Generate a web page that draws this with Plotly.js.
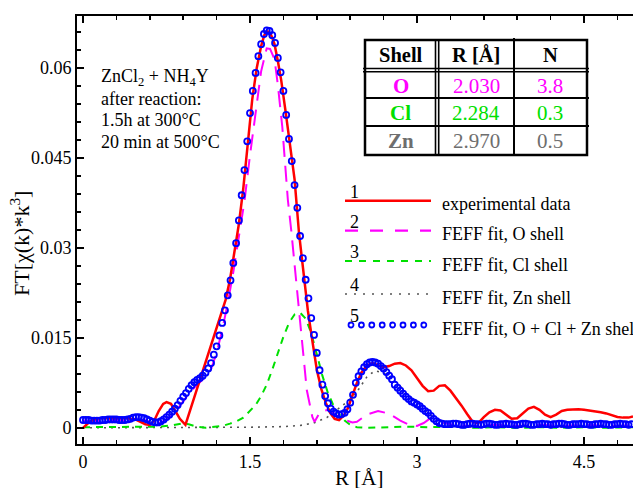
<!DOCTYPE html>
<html>
<head>
<meta charset="utf-8">
<script src="https://cdn.plot.ly/plotly-3.0.1.min.js"></script>
<style>html,body{margin:0;padding:0;background:#fff;}#chart{width:633px;height:488px;}</style>
</head>
<body>
<div id="chart"></div>
<script>
// ---------- DATA ----------
// experimental data (curve 1)
const R_exp = [0,0.03,0.06,0.1,0.15,0.2,0.3,0.4,0.47,0.52,0.56,0.6,0.64,0.68,0.72,0.75,0.79,0.83,0.87,0.92,0.96,1.0,1.04,1.08,1.12,1.16,1.2,1.24,1.28,1.32,1.36,1.4,1.44,1.48,1.52,1.56,1.6,1.63,1.66,1.69,1.72,1.75,1.78,1.82,1.86,1.9,1.94,1.98,2.02,2.06,2.1,2.14,2.18,2.22,2.26,2.3,2.34,2.38,2.42,2.46,2.5,2.55,2.6,2.65,2.7,2.75,2.8,2.85,2.9,2.95,3.0,3.05,3.1,3.15,3.2,3.25,3.3,3.35,3.4,3.45,3.5,3.55,3.6,3.65,3.7,3.75,3.8,3.85,3.9,3.95,4.0,4.05,4.1,4.15,4.2,4.25,4.3,4.35,4.4,4.45,4.5,4.55,4.6,4.65,4.7,4.75,4.8,4.85,4.9,4.94];
const FT_exp = [0,0.0005,0.0010,0.0014,0.0016,0.0016,0.0016,0.0016,0.0014,0.0010,0.0006,0.0005,0.0012,0.0028,0.0040,0.0043,0.0040,0.0028,0.0015,0.0005,0.0028,0.0050,0.0072,0.0094,0.0118,0.0142,0.0165,0.0188,0.0213,0.0247,0.0290,0.0340,0.0400,0.0475,0.0548,0.0600,0.0637,0.0656,0.0661,0.0655,0.0640,0.0612,0.0580,0.0527,0.0470,0.0415,0.0325,0.0263,0.0195,0.0145,0.0097,0.0065,0.0042,0.0025,0.0015,0.0013,0.0020,0.0033,0.0055,0.0075,0.0092,0.0104,0.0108,0.0105,0.0101,0.0103,0.0107,0.0108,0.0104,0.0096,0.0082,0.0070,0.0061,0.0062,0.0070,0.0071,0.0062,0.0050,0.0037,0.0023,0.0010,0.0008,0.0018,0.0026,0.0030,0.0029,0.0022,0.0015,0.0016,0.0024,0.0032,0.0035,0.0030,0.0022,0.0018,0.0022,0.0028,0.0030,0.0031,0.0031,0.0030,0.0029,0.0027,0.0026,0.0024,0.0021,0.0018,0.0017,0.0017,0.0019];

// FEFF fit, O shell (curve 2)
const R_O  = [0,0.1,0.2,0.3,0.4,0.5,0.55,0.6,0.65,0.7,0.75,0.8,0.85,0.9,0.95,1.0,1.05,1.1,1.15,1.2,1.25,1.3,1.35,1.4,1.45,1.5,1.55,1.6,1.65,1.68,1.72,1.75,1.79,1.81,1.84,1.87,1.92,1.97,2.01,2.06,2.08,2.13,2.2,2.27,2.35,2.42,2.46,2.55,2.65,2.72,2.78,2.85,2.92,3.0,3.06,3.12,3.18,3.25,3.35,3.5,3.7,3.9,4.1,4.3,4.5,4.7,4.94];
const FT_O = [0.0012,0.0011,0.0012,0.0013,0.0012,0.0014,0.0013,0.0010,0.0008,0.0009,0.0014,0.0022,0.0032,0.0044,0.0057,0.0067,0.0076,0.0085,0.0098,0.0125,0.0163,0.0208,0.0260,0.0320,0.0378,0.0455,0.0530,0.0595,0.0633,0.0632,0.0615,0.0572,0.0502,0.0447,0.0380,0.0330,0.0230,0.0130,0.0063,0.0018,0.0010,0.0027,0.0030,0.0022,0.0013,0.0009,0.0010,0.0022,0.0028,0.0025,0.0020,0.0012,0.0006,0.0003,0.0008,0.0016,0.0015,0.0008,0.0004,0.0003,0.0005,0.0003,0.0005,0.0003,0.0005,0.0003,0.0004];

// FEFF fit, Cl shell (curve 3)
const R_Cl  = [0,0.2,0.4,0.6,0.7,0.8,0.88,0.95,1.02,1.1,1.17,1.25,1.32,1.38,1.44,1.5,1.55,1.6,1.65,1.7,1.75,1.8,1.85,1.9,1.95,2.0,2.05,2.1,2.15,2.2,2.25,2.3,2.35,2.4,2.46,2.55,2.7,2.9,3.1,3.3,3.5,3.7,3.9,4.1,4.3,4.5,4.7,4.94];
const FT_Cl = [0.0001,0.0001,0.0001,0.0001,0.0002,0.0004,0.0007,0.0006,0.0002,0.0000,0.0001,0.0003,0.0007,0.0011,0.0017,0.0028,0.0038,0.0053,0.0072,0.0097,0.0125,0.0152,0.0175,0.0189,0.0192,0.0182,0.0158,0.0122,0.0087,0.0058,0.0037,0.0023,0.0012,0.0005,0.0001,0.0000,0.0001,0.0002,0.0001,0.0002,0.0000,0.0001,0.0000,0.0001,0.0000,0.0001,0.0000,0.0001];

// FEFF fit, Zn shell (curve 4)
const R_Zn  = [0,1.0,1.5,1.8,1.95,2.07,2.19,2.28,2.37,2.46,2.55,2.62,2.7,2.82,2.92,3.03,3.12,3.2,3.3,3.4,3.6,3.8,4.0,4.3,4.6,4.94];
const FT_Zn = [0,0,0.0001,0.0002,0.0004,0.0008,0.0017,0.0030,0.0043,0.0060,0.0085,0.0095,0.0092,0.0075,0.0055,0.0035,0.0022,0.0010,0.0003,0.0001,0.0002,0.0001,0.0002,0.0001,0.0002,0.0001];

// FEFF fit, O + Cl + Zn shells (curve 5)
const R_fit = [
 0,0.025,0.05,0.075,0.1,0.125,0.15,0.175,0.2,0.225,
 0.25,0.275,0.3,0.325,0.35,0.375,0.4,0.425,0.45,0.475,
 0.5,0.525,0.55,0.575,0.6,0.625,0.65,0.675,0.7,0.725,
 0.75,0.775,0.8,0.825,0.85,0.875,0.9,0.925,0.95,0.975,
 1.0,1.025,1.05,1.075,1.1,1.125,1.15,1.175,1.2,1.225,
 1.25,1.275,1.3,1.325,1.35,1.375,1.4,1.425,1.45,1.475,
 1.5,1.525,1.55,1.575,1.6,1.625,1.65,1.675,1.7,1.725,
 1.75,1.775,1.8,1.825,1.85,1.875,1.9,1.925,1.95,1.975,
 2.0,2.025,2.05,2.075,2.1,2.125,2.15,2.175,2.2,2.225,
 2.25,2.275,2.3,2.325,2.35,2.375,2.4,2.425,2.45,2.475,
 2.5,2.525,2.55,2.575,2.6,2.625,2.65,2.675,2.7,2.725,
 2.75,2.775,2.8,2.825,2.85,2.875,2.9,2.925,2.95,2.975,
 3.0,3.025,3.05,3.075,3.1,3.125,3.15,3.175,3.2,3.225,
 3.25,3.275,3.3,3.325,3.35,3.375,3.4,3.425,3.45,3.475,
 3.5,3.525,3.55,3.575,3.6,3.625,3.65,3.675,3.7,3.725,
 3.75,3.775,3.8,3.825,3.85,3.875,3.9,3.925,3.95,3.975,
 4.0,4.025,4.05,4.075,4.1,4.125,4.15,4.175,4.2,4.225,
 4.25,4.275,4.3,4.325,4.35,4.375,4.4,4.425,4.45,4.475,
 4.5,4.525,4.55,4.575,4.6,4.625,4.65,4.675,4.7,4.725,
 4.75,4.775,4.8,4.825,4.85,4.875,4.9,4.925];
const FT_fit = [
 0.0013,0.0013,0.0013,0.0012,0.0012,0.0012,0.0012,0.0013,0.0013,0.0014,
 0.0014,0.0014,0.0014,0.0013,0.0013,0.0013,0.0014,0.0015,0.0017,0.0018,
 0.0018,0.0017,0.0016,0.0014,0.0012,0.0010,0.0009,0.0009,0.0011,0.0014,
 0.0018,0.0022,0.0027,0.0032,0.0038,0.0045,0.0052,0.0058,0.0065,0.0071,
 0.0076,0.0080,0.0083,0.0087,0.0092,0.0099,0.0108,0.0122,0.0136,0.0154,
 0.0175,0.0196,0.0221,0.0246,0.0275,0.0308,0.0346,0.0388,0.0430,0.0478,
 0.0525,0.0562,0.0592,0.0620,0.0640,0.0657,0.0663,0.0662,0.0655,0.0642,
 0.0617,0.0593,0.0562,0.0522,0.0482,0.0445,0.0405,0.0367,0.0320,0.0283,
 0.0247,0.0216,0.0183,0.0155,0.0125,0.0096,0.0072,0.0053,0.0041,0.0032,
 0.0027,0.0024,0.0022,0.0023,0.0025,0.0031,0.0042,0.0055,0.0075,0.0086,
 0.0094,0.0101,0.0106,0.0109,0.0110,0.0109,0.0107,0.0103,0.0099,0.0093,
 0.0087,0.0081,0.0072,0.0067,0.0062,0.0057,0.0052,0.0048,0.0044,0.0042,
 0.0039,0.0036,0.0032,0.0028,0.0025,0.0020,0.0015,0.0011,0.0008,0.0007,
 0.0006,0.0006,0.0006,0.0007,0.0007,0.0006,0.0005,0.0005,0.0006,0.0007,
 0.0007,0.0006,0.0006,0.0005,0.0006,0.0007,0.0007,0.0006,0.0005,0.0005,
 0.0006,0.0006,0.0007,0.0006,0.0006,0.0005,0.0005,0.0006,0.0007,0.0007,
 0.0006,0.0005,0.0005,0.0006,0.0006,0.0007,0.0006,0.0006,0.0005,0.0006,
 0.0006,0.0007,0.0007,0.0006,0.0005,0.0005,0.0006,0.0006,0.0006,0.0007,
 0.0006,0.0006,0.0005,0.0005,0.0006,0.0006,0.0007,0.0006,0.0006,0.0005,
 0.0005,0.0006,0.0006,0.0007,0.0006,0.0006,0.0005,0.0006];

// table
const tableHeader = ['Shell', 'R [Å]', 'N'];
const tableShell = ['O', 'Cl', 'Zn'];
const tableR = ['2.030', '2.284', '2.970'];
const tableN = ['3.8', '0.3', '0.5'];

// legend
const legendNums = ['1', '2', '3', '4', '5'];
const legendLabels = ['experimental data', 'FEFF fit, O shell', 'FEFF fit, Cl shell', 'FEFF fit, Zn shell', 'FEFF fit, O + Cl + Zn shell'];

// sample note
const noteLines = ['ZnCl<sub>2</sub> + NH<sub>4</sub>Y', 'after reaction:', '1.5h at 300°C', '20 min at 500°C'];

// ---------- STYLE ----------
const SERIF = '"Liberation Serif", "Times New Roman", Times, serif';
const C_RED = '#ff0000', C_MAG = '#ff00ff', C_GRN = '#00e000', C_GRY = '#555555', C_BLU = '#0000ff';
const M = {l: 77, r: 0, t: 16, b: 44}, W = 633, H = 488;
const PW = W - M.l - M.r, PH = H - M.t - M.b;
const X = px => (px - M.l) / PW;           // pixel -> paper x
const Y = py => (H - M.b - py) / PH;       // pixel -> paper y

const traces = [
  {x: R_Zn, y: FT_Zn, mode: 'lines', line: {color: C_GRY, width: 1.6, dash: '2px,5px'}, hoverinfo: 'skip'},
  {x: R_Cl, y: FT_Cl, mode: 'lines', line: {color: C_GRN, width: 2, dash: '7px,6px'}, hoverinfo: 'skip'},
  {x: R_O,  y: FT_O,  mode: 'lines', line: {color: C_MAG, width: 2, dash: '16px,9px'}, hoverinfo: 'skip'},
  {x: R_exp, y: FT_exp, mode: 'lines', line: {color: C_RED, width: 2.5}, hoverinfo: 'skip'},
  {x: R_fit, y: FT_fit, mode: 'markers', marker: {symbol: 'circle-open', size: 6, color: C_BLU, line: {width: 1.8, color: C_BLU}}, hoverinfo: 'skip'}
];

const shapes = [];
const annotations = [];

// ----- table -----
const tL = 365, tR = 587, tT = 40, tB = 155;
shapes.push({type: 'rect', xref: 'paper', yref: 'paper', x0: X(tL), x1: X(tR), y0: Y(tB), y1: Y(tT), line: {color: '#000', width: 2.5}, fillcolor: '#fff', layer: 'above'});
function hline(x0, x1, y, w) { shapes.push({type: 'line', xref: 'paper', yref: 'paper', x0: X(x0), x1: X(x1), y0: Y(y), y1: Y(y), line: {color: '#000', width: w}}); }
function vline(x, y0, y1, w) { shapes.push({type: 'line', xref: 'paper', yref: 'paper', x0: X(x), x1: X(x), y0: Y(y0), y1: Y(y1), line: {color: '#000', width: w}}); }
hline(tL - 2, tR + 2, 68.5, 1.6); hline(tL - 2, tR + 2, 71.7, 1.6);
hline(tL, tR + 2, 98, 2); hline(tL, tR + 2, 126, 2);
vline(435.5, tT, tB, 1.6); vline(438.7, tT, tB, 1.6);
vline(514, tT - 2, tB, 2);

const colC = [400.5, 476, 550];
const rowC = [55, 86, 113, 141];
const rowColors = [C_MAG, C_GRN, '#6e6e6e'];
tableHeader.forEach((t, i) => annotations.push({xref: 'paper', yref: 'paper', x: X(colC[i]), y: Y(rowC[0]), text: '<b>' + t + '</b>', showarrow: false, xanchor: 'center', yanchor: 'middle', font: {family: SERIF, size: 20.5, color: '#000'}}));
tableShell.forEach((s, j) => {
  const c = rowColors[j];
  annotations.push({xref: 'paper', yref: 'paper', x: X(colC[0]), y: Y(rowC[j + 1]), text: '<b>' + s + '</b>', showarrow: false, xanchor: 'center', yanchor: 'middle', font: {family: SERIF, size: 21, color: c}});
  annotations.push({xref: 'paper', yref: 'paper', x: X(colC[1]), y: Y(rowC[j + 1]), text: tableR[j], showarrow: false, xanchor: 'center', yanchor: 'middle', font: {family: SERIF, size: 21, color: c}});
  annotations.push({xref: 'paper', yref: 'paper', x: X(colC[2]), y: Y(rowC[j + 1]), text: tableN[j], showarrow: false, xanchor: 'center', yanchor: 'middle', font: {family: SERIF, size: 21, color: c}});
});

// ----- legend -----
const legLineY = [200.7, 230.7, 261, 294, 325];
const legStyles = [
  {color: C_RED, width: 2.5, dash: 'solid'},
  {color: C_MAG, width: 2.2, dash: '13px,12px'},
  {color: C_GRN, width: 2.2, dash: '7px,7px'},
  {color: C_GRY, width: 1.6, dash: '2px,7px'},
  null
];
legendLabels.forEach((lab, i) => {
  const st = legStyles[i];
  if (st) {
    shapes.push({type: 'line', xref: 'paper', yref: 'paper', x0: X(345), x1: X(431), y0: Y(legLineY[i]), y1: Y(legLineY[i]), line: st});
  } else {
    for (let k = 0; k < 8; k++) {
      const cx = 351 + k * 10.4;
      shapes.push({type: 'circle', xref: 'paper', yref: 'paper', x0: X(cx - 2.5), x1: X(cx + 2.5), y0: Y(legLineY[i] + 2.5), y1: Y(legLineY[i] - 2.5), line: {color: C_BLU, width: 1.8}});
    }
  }
  annotations.push({xref: 'paper', yref: 'paper', x: X(354), y: Y(legLineY[i] - 9), text: legendNums[i], showarrow: false, xanchor: 'center', yanchor: 'middle', font: {family: SERIF, size: 18, color: '#000'}});
  annotations.push({xref: 'paper', yref: 'paper', x: X(440), y: Y(legLineY[i] + 3.5), text: lab, showarrow: false, xanchor: 'left', yanchor: 'middle', font: {family: SERIF, size: 18, color: '#000'}});
});

// ----- sample note -----
const noteY = [77, 99, 120, 142];
noteLines.forEach((t, i) => annotations.push({xref: 'paper', yref: 'paper', x: X(99), y: Y(noteY[i]), text: t, showarrow: false, xanchor: 'left', yanchor: 'middle', font: {family: SERIF, size: 18, color: '#000'}}));

// ----- axis titles -----
annotations.push({xref: 'paper', yref: 'paper', x: X(20), y: Y(244), text: 'FT[χ(k)*k<sup>3</sup>]', textangle: -90, showarrow: false, xanchor: 'center', yanchor: 'middle', font: {family: SERIF, size: 22, color: '#000'}});
annotations.push({xref: 'paper', yref: 'paper', x: X(359), y: Y(478), text: 'R [Å]', showarrow: false, xanchor: 'center', yanchor: 'middle', font: {family: SERIF, size: 21, color: '#000'}});

const axisCommon = {
  showgrid: false, zeroline: false, showline: true, linecolor: '#000', linewidth: 2,
  ticks: 'inside', ticklen: 7, tickwidth: 1.6, tickcolor: '#000',
  tickfont: {family: SERIF, size: 18, color: '#000'}
};

const layout = {
  width: W, height: H, margin: M,
  paper_bgcolor: '#fff', plot_bgcolor: '#fff', showlegend: false,
  font: {family: SERIF, size: 18, color: '#000'},
  xaxis: Object.assign({}, axisCommon, {
    range: [-0.054, 4.94], tickmode: 'linear', tick0: 0, dtick: 1.5, mirror: 'allticks',
    minor: {tickmode: 'linear', tick0: 0, dtick: 0.3, ticks: 'inside', ticklen: 4, tickwidth: 1.6, tickcolor: '#000', showgrid: false}
  }),
  yaxis: Object.assign({}, axisCommon, {
    range: [-0.0027, 0.0687], tickmode: 'linear', tick0: 0, dtick: 0.015, mirror: false,
    minor: {tickmode: 'linear', tick0: 0, dtick: 0.003, ticks: 'inside', ticklen: 4, tickwidth: 1.6, tickcolor: '#000', showgrid: false}
  }),
  shapes: shapes,
  annotations: annotations
};

Plotly.newPlot('chart', traces, layout, {displayModeBar: false, staticPlot: true});
</script>
</body>
</html>
